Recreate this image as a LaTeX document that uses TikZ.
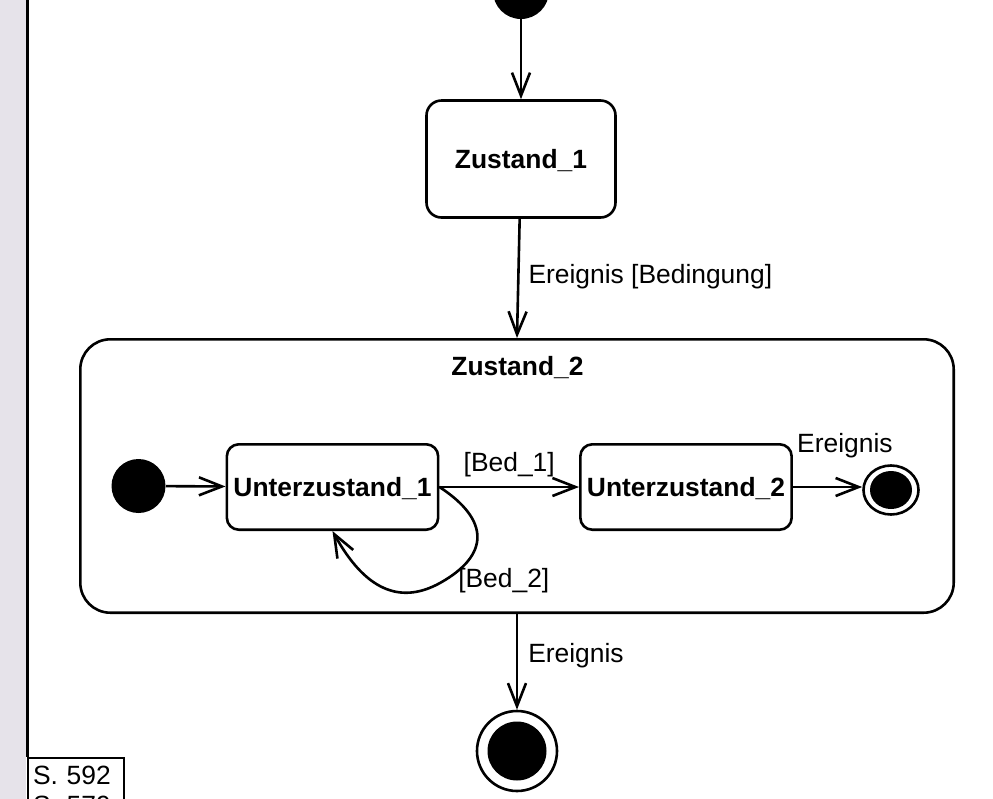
\documentclass[tikz,border=0pt]{standalone}
\usepackage{fontspec}
\setmainfont{Liberation Sans}
\usepackage{tikz}
\usetikzlibrary{shapes.geometric, arrows.meta, positioning}
\definecolor{sidebar}{HTML}{E6E3EA}
\newcommand{\diafont}{\fontsize{13.2}{15}\selectfont}

\begin{document}
\begin{tikzpicture}[
    x=0.5pt, y=-0.5pt,
    every node/.style={font=\diafont},
    state/.style={draw, rectangle, rounded corners=7.5pt, align=center, line width=1.3pt, font=\diafont\bfseries, text depth=0pt},
    pseudostate/.style={circle, fill=black, inner sep=0pt},
    finalstate/.style={ellipse, draw, line width=1.3pt, inner sep=0pt},
    dot/.style 2 args={path picture={\fill[black] (path picture bounding box.center) ellipse [x radius=#1, y radius=#2];}},
    arrow/.style={-{Straight Barb[length=11.5pt, width=9pt]}, line width=1.3pt},
    guard/.style={inner sep=0pt}
  ]
  \useasboundingbox (0,0) rectangle (993,799);

  % Page margin
  \fill [sidebar] (0,0) rectangle (26,799);
  \node (sbox) [draw, line width=1pt, anchor=north west, align=left, text width=43pt, inner xsep=2.5pt, inner ysep=4.5pt] at (27,756.5) {S. 592\\S. 579};
  \draw [line width=1.5pt] (27,0) -- (sbox.north west);

  % Nodes
  \node (start) [pseudostate, minimum size=28pt] at (521,-9) {};
  \node (z1) [state, minimum width=94.5pt, minimum height=58.5pt] at (521,159) {Zustand\_1};
  \node (z2) [state, rounded corners=15pt, minimum width=436.7pt, minimum height=136.7pt] at (517,476) {};
  \node (z2title) [anchor=base, font=\diafont\bfseries] at (517.5,375) {Zustand\_2};
  \node (init2) [pseudostate, minimum size=27pt] at (138.5,486) {};
  \node (u1) [state, rounded corners=6pt, minimum width=104pt, minimum height=42.7pt] at (332.5,487) {Unterzustand\_1};
  \node (u2) [state, rounded corners=6pt, minimum width=104pt, minimum height=42.7pt] at (686,487) {Unterzustand\_2};
  \node (fin2) [finalstate, minimum width=27.5pt, minimum height=24.5pt, dot={10.5pt}{9.5pt}] at (891,490) {};
  \node (fin) [finalstate, minimum width=40pt, minimum height=40pt, dot={14.75pt}{14.75pt}] at (517,751) {};

  % Connections
  \draw [arrow] (start) -- (z1);
  \draw [arrow] (z1) -- (z2.north) node[guard, anchor=base west, pos=0.54, xshift=4.5pt] {Ereignis [Bedingung]};
  \draw [arrow] (init2) -- (u1);
  \draw [arrow] (u1) -- (u2) node[guard, anchor=base, midway, yshift=8pt] {[Bed\_1]};
  \draw [arrow] (u1.east) .. controls (490,520) and (490,555) .. (440,583) node[guard, anchor=base west, xshift=8.5pt, yshift=-2pt] {[Bed\_2]} .. controls (400,605) and (365,590) .. (u1.south);
  \draw [arrow] (u2.east) -- (u2.east -| fin2.west) node[guard, anchor=base, pos=0.75, yshift=17.5pt] {Ereignis};
  \draw [arrow] (z2.south) -- (fin) node[guard, anchor=base west, pos=0.51, xshift=5pt] {Ereignis};

\end{tikzpicture}
\end{document}
